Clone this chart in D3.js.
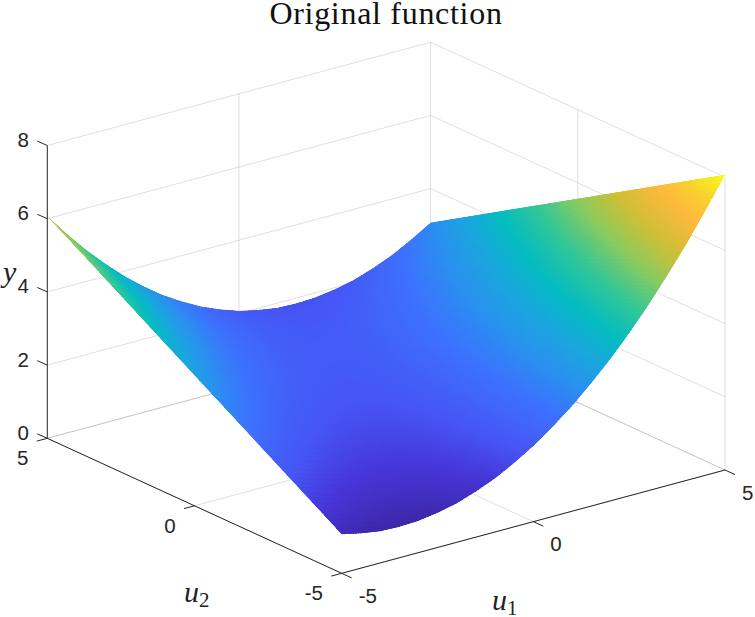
<!DOCTYPE html>
<html><head><meta charset="utf-8">
<script src="https://cdn.jsdelivr.net/npm/d3@7/dist/d3.min.js"></script>
<style>html,body{margin:0;padding:0;background:#fff}svg{display:block}</style>
</head><body><svg id="c" width="755" height="617"></svg>
<script>
const titleText = "Original function";
const u1Values = [-5,-4.5,-4,-3.5,-3,-2.5,-2,-1.5,-1,-0.5,0,0.5,1,1.5,2,2.5,3,3.5,4,4.5,5];
const u2Rows = [-5,0,5];
const zAtU2Minus5 = [1.07,0.95,0.87,0.85,0.87,0.95,1.07,1.25,1.47,1.75,2.07,2.45,2.87,3.35,3.87,4.45,5.07,5.75,6.47,7.25,8.07];
const zAtU2Zero   = [3.57,3.2,2.87,2.6,2.37,2.2,2.07,2.0,1.97,2.0,2.07,2.2,2.37,2.6,2.87,3.2,3.57,4.0,4.47,5.0,5.57];
const zAtU2Plus5  = [6.07,5.45,4.87,4.35,3.87,3.45,3.07,2.75,2.47,2.25,2.07,1.95,1.87,1.85,1.87,1.95,2.07,2.25,2.47,2.75,3.07];
const u1Ticks = [-5,0,5];
const u2Ticks = [-5,0,5];
const zTicks = [0,2,4,6,8];
const parulaPos = [0,0.08,0.15,0.25,0.32,0.4,0.47,0.56,0.65,0.74,0.84,0.92,1];
const parulaCols = ["#3e26a8","#4636d8","#4655f5","#3c72fd","#2a8ff0","#18a8dc","#03bcc0","#35c795","#8acb5e","#cfbf35","#feb93c","#f9d52c","#f9fb15"];

const cx = 386.15, cy = 454.15;
const xU1 = d3.scaleLinear([-5,5],[-191.65,191.65]);
const yU1 = d3.scaleLinear([-5,5],[51.65,-51.65]);
const xU2 = d3.scaleLinear([-5,5],[147.2,-147.2]);
const yU2 = d3.scaleLinear([-5,5],[67.5,-67.5]);
const yZ  = d3.scaleLinear([0,8],[0,-292.8]);
const px = (a,b) => cx + xU1(a) + xU2(b);
const py = (a,b,z) => cy + yU1(a) + yU2(b) + yZ(z);

const rows = [zAtU2Minus5, zAtU2Zero, zAtU2Plus5];
const [zMin,zMax] = d3.extent(rows.flat());
const color = d3.scaleLinear()
  .domain(parulaPos.map(t=>zMin+(zMax-zMin)*t))
  .range(parulaCols).interpolate(d3.interpolateRgb);

const svg = d3.select("#c");
const gridCol = "#262626";

// grid
const grid = svg.append("g").attr("fill","none").attr("stroke",gridCol).attr("stroke-opacity",0.15).attr("stroke-width",1);
const seg = (a) => grid.append("line").attr("x1",a[0]).attr("y1",a[1]).attr("x2",a[2]).attr("y2",a[3]);
zTicks.forEach(z=>{
  seg([px(-5,5),py(-5,5,z),px(5,5),py(5,5,z)]);
  seg([px(5,5),py(5,5,z),px(5,-5),py(5,-5,z)]);
});
u1Ticks.forEach(a=>{
  seg([px(a,-5),py(a,-5,0),px(a,5),py(a,5,0)]);
  if(a>-5) seg([px(a,5),py(a,5,0),px(a,5),py(a,5,8)]);
});
u2Ticks.forEach(b=>{
  seg([px(-5,b),py(-5,b,0),px(5,b),py(5,b,0)]);
  if(b<5) seg([px(5,b),py(5,b,0),px(5,b),py(5,b,8)]);
});

// surface: interpolated shading between the read rows
const subA = 8, subB = 30;
const zAt = (fa,fb) => {
  const i = Math.min(Math.floor(fa),u1Values.length-2), t = fa-i;
  const v = rows.map(r=> r[i]+(r[i+1]-r[i])*t);
  const j = Math.min(Math.floor(fb),1), s = fb-j;
  return v[j]+(v[j+1]-v[j])*s;
};
const uAt = fa => { const i=Math.min(Math.floor(fa),u1Values.length-2); return u1Values[i]+(u1Values[i+1]-u1Values[i])*(fa-i); };
const vAt = fb => { const j=Math.min(Math.floor(fb),1); return u2Rows[j]+(u2Rows[j+1]-u2Rows[j])*(fb-j); };
const quads = [];
const nA = (u1Values.length-1)*subA, nB = (u2Rows.length-1)*subB;
for(let jb=nB-1;jb>=0;jb--){
  for(let ia=nA-1;ia>=0;ia--){
    const pts = [[ia,jb],[ia+1,jb],[ia+1,jb+1],[ia,jb+1]].map(([p,q])=>{
      const fa=p/subA, fb=q/subB, z=zAt(fa,fb), a=uAt(fa), b=vAt(fb);
      return [px(a,b),py(a,b,z),z];
    });
    quads.push({pts, z:d3.mean(pts,d=>d[2])});
  }
}
// anti-aliased outline clip around crisp cells
const outline = [];
u1Values.forEach((a,i)=>outline.push([px(a,-5),py(a,-5,zAtU2Minus5[i])]));
u2Rows.slice(1).forEach((b,j)=>outline.push([px(5,b),py(5,b,rows[j+1][20])]));
u1Values.slice().reverse().forEach((a,i)=>outline.push([px(a,5),py(a,5,zAtU2Plus5[20-i])]));
u2Rows.slice(0,2).reverse().forEach((b,j)=>outline.push([px(-5,b),py(-5,b,rows[1-j][0])]));
svg.append("clipPath").attr("id","sclip").append("path").attr("d",d3.line().curve(d3.curveLinearClosed)(outline));
svg.append("g").attr("clip-path","url(#sclip)").attr("shape-rendering","crispEdges")
  .selectAll("polygon").data(quads).join("polygon")
  .attr("points",d=>d.pts.map(p=>p[0].toFixed(2)+","+p[1].toFixed(2)).join(" "))
  .attr("fill",d=>color(d.z)).attr("stroke",d=>color(d.z)).attr("stroke-width",1);

// axes
const ax = svg.append("g").attr("stroke",gridCol).attr("stroke-width",1).attr("fill","none");
const aseg = (x1,y1,x2,y2)=>ax.append("line").attr("x1",x1).attr("y1",y1).attr("x2",x2).attr("y2",y2);
aseg(px(-5,5),py(-5,5,0),px(-5,5),py(-5,5,8));
aseg(px(-5,5),py(-5,5,0),px(-5,-5),py(-5,-5,0));
aseg(px(-5,-5),py(-5,-5,0),px(5,-5),py(5,-5,0));
zTicks.forEach(z=>aseg(px(-5,5),py(-5,5,z),px(-5,5)-10,py(-5,5,z)-4.4));
u2Ticks.forEach(b=>aseg(px(-5,b),py(-5,b,0),px(-5,b)-10.5,py(-5,b,0)+2.8));
u1Ticks.forEach(a=>aseg(px(a,-5),py(a,-5,0),px(a,-5)+10,py(a,-5,0)+4.6));

// text
const sans = "'Liberation Sans',Arial,sans-serif", serif = "'Liberation Serif','Times New Roman',serif";
const txt = svg.append("g").attr("fill","#262626").attr("font-family",sans).attr("font-size",20.5);
const lab = (x,y,s,anc)=>txt.append("text").attr("x",x).attr("y",y).attr("text-anchor",anc).attr("dominant-baseline","central").text(s);
zTicks.forEach(z=>lab(px(-5,5)-18.3,py(-5,5,z)-6,z,"end"));
u2Ticks.forEach(b=>lab(px(-5,b)-18.8,py(-5,b,0)+19.5,b,"end"));
u1Ticks.forEach(a=>lab(px(a,-5)+17,py(a,-5,0)+22,a,"start"));

svg.append("text").attr("x",386).attr("y",24).attr("text-anchor","middle")
  .attr("font-family",serif).attr("font-size",32).attr("letter-spacing",0.7).attr("fill","#111").text(titleText);

const mathLabel=(x,y,base,sub)=>{
  const t=svg.append("text").attr("x",x).attr("y",y).attr("font-family",serif).attr("font-size",30).attr("fill","#222");
  t.append("tspan").attr("font-style","italic").text(base);
  if(sub) t.append("tspan").attr("font-size",21).attr("dy",4.5).text(sub);
};
mathLabel(184,602,"u","2");
mathLabel(492,610,"u","1");
mathLabel(3,282,"y");
</script></body></html>
